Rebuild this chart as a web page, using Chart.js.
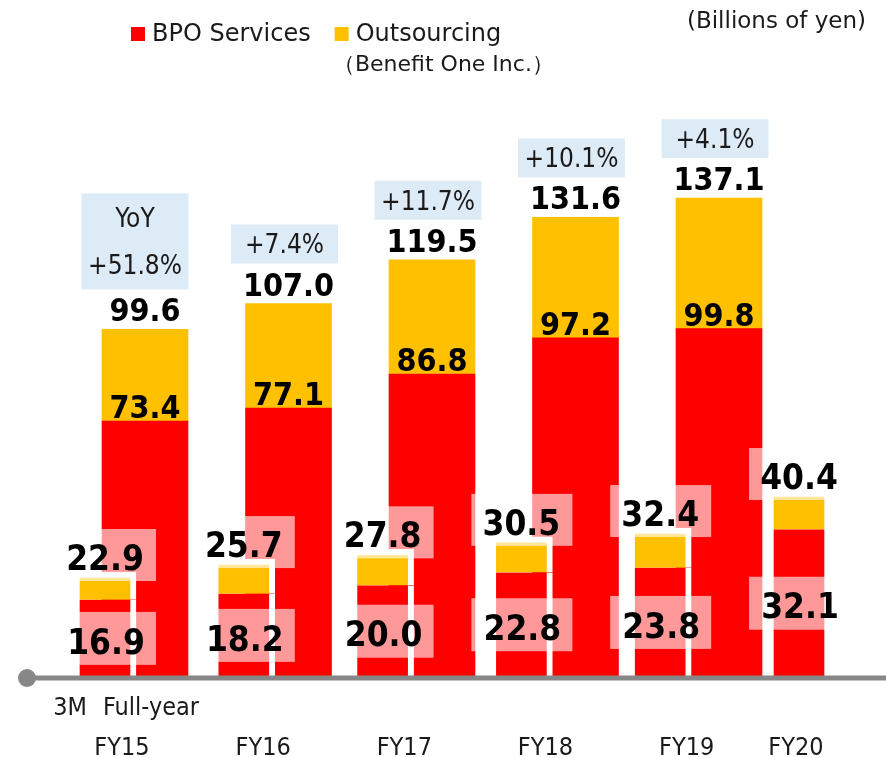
<!DOCTYPE html>
<html>
<head>
<meta charset="utf-8">
<script src="https://cdn.jsdelivr.net/npm/chart.js@4.4.1/dist/chart.umd.min.js"></script>
<style>
  html, body { margin: 0; padding: 0; background: #fff; }
  #wrap { position: relative; width: 886px; height: 758px; }
</style>
</head>
<body>
<div id="wrap"><canvas id="chart"></canvas></div>
<script>
/* Sales by segment — 3M vs full-year, stacked bars */

const years = ['FY15', 'FY16', 'FY17', 'FY18', 'FY19', 'FY20'];
const seriesNames = ['BPO Services', 'Outsourcing'];
const seriesNote = '（Benefit One Inc.）';
const unitLabel = '(Billions of yen)';
const periodLabels = ['3M', 'Full-year'];

// 3M (first quarter)
const q1Bpo   = [16.9, 18.2, 20.0, 22.8, 23.8, 32.1];
const q1Out   = [6.0, 7.5, 7.8, 7.7, 8.6, 8.3];
const q1Total = [22.9, 25.7, 27.8, 30.5, 32.4, 40.4];

// Full-year
const fyBpo   = [73.4, 77.1, 86.8, 97.2, 99.8];
const fyOut   = [26.2, 29.9, 32.7, 34.4, 37.3];
const fyTotal = [99.6, 107.0, 119.5, 131.6, 137.1];

const yoyTitle = 'YoY';
const yoyLabels = ['+51.8%', '+7.4%', '+11.7%', '+10.1%', '+4.1%'];

const PALETTE = {
  red: '#FF0000', yellow: '#FFC000', yoy: '#DDEBF7', axis: '#878787',
  ink: '#000000', text: '#1a1a1a', veil: 'rgba(255,255,255,0.6)'
};
const FONT = '"DejaVu Sans Condensed", "DejaVu Sans", sans-serif';
const FONT_WIDE = '"DejaVu Sans", Verdana, sans-serif';
const BORDER = 6;

const pts = arr => arr.map((v, i) => ({ x: i, y: v }));
// linear index axis so that bar i sits at first + i * pitch (px)
const rowRange = (first, pitch) => ({ min: -first / pitch, max: (886 - first) / pitch });

function text(c, str, x, y, font, color, align = 'center') {
  c.font = font; c.fillStyle = color; c.textAlign = align; c.textBaseline = 'alphabetic';
  c.fillText(str, x, y);
}
function textMid(c, str, x, cy, size, weight, color) {
  text(c, str, x, cy + size * 0.365, `${weight} ${size}px ${FONT}`, color);
}

const annotations = {
  id: 'annotations',
  afterDatasetsDraw(chart) {
    const c = chart.ctx;
    const [q1Red, q1Yel, fyRed, fyYel] = [0, 1, 2, 3].map(d => chart.getDatasetMeta(d).data);
    const y0 = chart.scales.y.getPixelForValue(0);
    c.save();

    // base line with dot
    c.strokeStyle = PALETTE.axis; c.lineWidth = 5;
    c.beginPath(); c.moveTo(27, y0); c.lineTo(chart.width, y0); c.stroke();
    c.fillStyle = PALETTE.axis;
    c.beginPath(); c.arc(27, y0, 9, 0, Math.PI * 2); c.fill();

    // 3M labels, on translucent white patches
    q1Red.forEach((bar, i) => {
      const segMid = (bar.y + bar.base) / 2;
      const totMid = q1Yel[i].y + BORDER - 21;
      c.fillStyle = PALETTE.veil;
      c.fillRect(bar.x - 50, segMid - 27, 101, 53);
      c.fillRect(bar.x - 50, totMid - 28, 101, 52);
      textMid(c, q1Bpo[i].toFixed(1), bar.x + 1, segMid + 2, 35, 'bold', PALETTE.ink);
      textMid(c, q1Total[i].toFixed(1), bar.x, totMid, 35, 'bold', PALETTE.ink);
    });

    // full-year labels + YoY boxes
    fyRed.forEach((bar, i) => {
      const top = fyYel[i].y;
      text(c, fyBpo[i].toFixed(1), bar.x, bar.y - 3, `bold 32px ${FONT}`, PALETTE.ink);
      text(c, fyTotal[i].toFixed(1), bar.x, top - 8, `bold 32px ${FONT}`, PALETTE.ink);

      const lines = i === 0 ? [yoyTitle, yoyLabels[i]] : [yoyLabels[i]];
      const h = 39 + (lines.length - 1) * 57;
      const bottom = top - 40, cx = bar.x - 4 - (lines.length - 1) * 6;
      c.fillStyle = PALETTE.yoy;
      c.fillRect(cx - 53.5, bottom - h, 107, h);
      const first = bottom - h + (h - (lines.length - 1) * 47) / 2;
      lines.forEach((s, k) => textMid(c, s, cx, first + k * 47, 26, 'normal', PALETTE.text));
    });

    // x labels
    text(c, periodLabels[0], q1Red[0].x - 35, y0 + 37, `25px ${FONT}`, PALETTE.text);
    text(c, periodLabels[1], fyRed[0].x + 6, y0 + 37, `25px ${FONT}`, PALETTE.text);
    years.forEach((yr, i) => {
      const a = q1Red[i].x, b = fyRed[i] ? fyRed[i].x : a;
      text(c, yr, (a + b) / 2 - 3, y0 + 77, `25px ${FONT}`, PALETTE.text);
    });

    // legend + unit
    const lf = `24px ${FONT_WIDE}`;
    let x = 131;
    [PALETTE.red, PALETTE.yellow].forEach((col, k) => {
      c.fillStyle = col; c.fillRect(x, 27, 14, 14);
      c.font = lf;
      const w = c.measureText(seriesNames[k]).width;
      text(c, seriesNames[k], x + 21, 41, lf, PALETTE.text, 'left');
      if (k === 1) text(c, seriesNote, x + 21 + w / 2 + 15, 71, `22px ${FONT_WIDE}`, PALETTE.text);
      x += 21 + w + 24;
    });
    text(c, unitLabel, 866, 28, `23px ${FONT_WIDE}`, PALETTE.text, 'right');

    c.restore();
  }
};

const q1Style = (color, top) => ({
  xAxisID: 'x3', yAxisID: 'y3', backgroundColor: color, borderColor: '#fff',
  borderWidth: { left: BORDER, right: BORDER, top, bottom: 0 }, borderSkipped: false, maxBarThickness: 62
});
const fyStyle = color => ({ xAxisID: 'x', yAxisID: 'y', backgroundColor: color, borderWidth: 0, maxBarThickness: 86 });

new Chart(document.getElementById('chart'), {
  type: 'bar',
  data: {
    datasets: [
      { label: seriesNames[0], data: pts(q1Bpo), ...q1Style(PALETTE.red, 0) },
      { label: seriesNames[1], data: pts(q1Out), ...q1Style(PALETTE.yellow, BORDER) },
      { label: seriesNames[0], data: pts(fyBpo), ...fyStyle(PALETTE.red) },
      { label: seriesNames[1], data: pts(fyOut), ...fyStyle(PALETTE.yellow) }
    ]
  },
  options: {
    responsive: true, maintainAspectRatio: false, animation: false, events: [],
    grouped: false, barPercentage: 1, categoryPercentage: 1,
    layout: { padding: { top: 0, left: 0, right: 0, bottom: 80 } },
    plugins: { legend: { display: false }, tooltip: { enabled: false } },
    scales: {
      x:  { type: 'linear', display: false, offset: false, stacked: true, ...rowRange(145, 143.5) },
      x3: { type: 'linear', display: false, offset: false, stacked: true, ...rowRange(105, 138.8) },
      y:  { display: false, stacked: true, min: 0, max: 678 / 3.5 },
      y3: { display: false, stacked: true, min: 0, max: 146.5 }
    }
  },
  plugins: [annotations]
});
</script>
</body>
</html>
